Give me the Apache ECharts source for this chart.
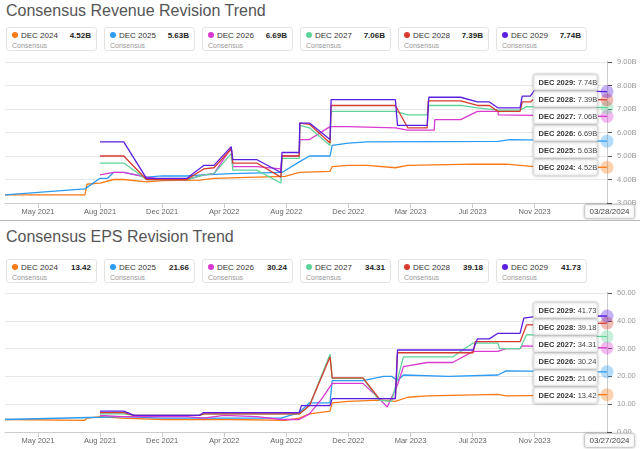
<!DOCTYPE html>
<html><head><meta charset="utf-8">
<script src="https://cdn.jsdelivr.net/npm/echarts@6/dist/echarts.min.js"></script>
<style>
body{margin:0;width:640px;height:449px;background:#fff;font-family:Arial,"Liberation Sans",sans-serif;overflow:hidden;position:relative}
.title{position:absolute;left:6px;font-size:16px;color:#555}
.box{position:absolute;width:91px;height:24px;border:1px solid #e3e3e3;border-radius:3px;box-sizing:border-box;padding:3px 5px;font-size:8px}
.box .n{color:#333}.box .v{position:absolute;right:5px;top:3px;font-weight:bold;color:#222}
.box .c{color:#999;font-size:7px;margin-top:2px}
.dot{display:inline-block;width:6px;height:6px;border-radius:3px;margin-right:3px}
.sep{position:absolute;left:0;top:220px;width:640px;height:1px;background:#bbb}
</style></head><body>
<div class="title" style="top:2px">Consensus Revenue Revision Trend</div>
<div id="revBoxes"></div>
<div id="rev" style="position:absolute;left:0;top:0;width:640px;height:220px"></div>
<div class="sep"></div>
<div class="title" style="top:228px">Consensus EPS Revision Trend</div>
<div id="epsBoxes"></div>
<div id="eps" style="position:absolute;left:0;top:220px;width:640px;height:229px"></div>
<script>
'use strict';
var names = ['DEC 2024','DEC 2025','DEC 2026','DEC 2027','DEC 2028','DEC 2029'];
var colors = ['#fb7a16','#2b9bf4','#d93ad0','#5fd49a','#d63b2f','#5a1fe0'];
var tickDates = ['2021-05-01','2021-08-24','2021-12-17','2022-04-11','2022-08-04','2022-11-27','2023-03-22','2023-07-15','2023-11-07'];
var tickLabels = ['May 2021','Aug 2021','Dec 2021','Apr 2022','Aug 2022','Dec 2022','Mar 2023','Jul 2023','Nov 2023'];
var revLast = [4.52,5.63,6.69,7.06,7.39,7.74];
var epsLast = [13.42,21.66,30.24,34.31,39.18,41.73];

var rev2024 = [['2021-03-01',3.35],['2021-07-27',3.35],['2021-07-31',3.8],['2021-08-24',3.85],['2021-09-18',4.0],['2021-10-07',4.0],['2021-11-18',3.9],['2021-12-18',3.95],['2022-02-24',3.97],['2022-03-23',4.05],['2022-06-10',4.1],['2022-08-02',4.13],['2022-08-28',4.3],['2022-10-24',4.35],['2022-10-28',4.55],['2022-11-27',4.6],['2023-01-01',4.6],['2023-02-22',4.5],['2023-03-17',4.6],['2023-07-16',4.65],['2023-09-15',4.65],['2023-11-07',4.55],['2024-03-20',4.52]];
var rev2025 = [['2021-03-01',3.35],['2021-07-27',3.6],['2021-08-24',4.05],['2021-09-07',4.05],['2021-09-18',4.3],['2021-10-07',4.3],['2021-11-18',4.1],['2021-12-18',4.15],['2022-02-01',4.15],['2022-03-04',4.2],['2022-04-24',4.25],['2022-04-27',4.3],['2022-07-27',4.3],['2022-08-28',4.75],['2022-09-16',5.0],['2022-10-24',5.0],['2022-10-28',5.45],['2022-11-27',5.55],['2023-01-01',5.6],['2023-08-31',5.62],['2023-09-22',5.7],['2024-03-20',5.63]];
var rev2026 = [['2021-08-24',4.2],['2021-09-18',4.3],['2021-10-07',4.3],['2021-11-18',4.1],['2021-12-18',4.0],['2022-02-01',4.0],['2022-03-04',4.2],['2022-03-23',4.25],['2022-04-24',5.35],['2022-04-27',4.55],['2022-06-10',4.55],['2022-07-25',4.45],['2022-07-27',5.0],['2022-08-28',5.0],['2022-08-29',5.7],['2022-09-16',5.7],['2022-10-24',6.25],['2022-11-27',6.25],['2023-02-22',6.2],['2023-03-17',6.1],['2023-05-05',6.1],['2023-05-06',6.55],['2023-06-23',6.55],['2023-07-24',6.9],['2023-08-31',6.9],['2023-09-01',6.75],['2024-03-20',6.69]];
var rev2027 = [['2021-08-24',4.7],['2021-10-07',4.7],['2021-11-18',4.0],['2022-02-01',4.0],['2022-03-04',4.2],['2022-03-23',4.25],['2022-04-24',5.1],['2022-04-27',4.4],['2022-06-10',4.4],['2022-07-25',3.85],['2022-07-27',4.9],['2022-08-28',4.9],['2022-08-29',6.3],['2022-09-16',6.2],['2022-10-24',5.45],['2022-10-26',6.9],['2023-02-22',6.9],['2023-03-17',6.75],['2023-04-22',6.75],['2023-04-24',7.15],['2023-06-23',7.15],['2023-07-24',7.05],['2023-08-31',6.95],['2023-10-11',6.95],['2023-10-23',7.1],['2024-03-20',7.06]];
var rev2028 = [['2021-08-24',5.0],['2021-10-07',5.0],['2021-11-18',4.0],['2022-02-01',4.0],['2022-03-04',4.45],['2022-03-23',4.5],['2022-04-24',5.3],['2022-04-27',4.7],['2022-06-10',4.7],['2022-07-25',4.1],['2022-07-27',5.0],['2022-08-28',5.0],['2022-08-29',6.4],['2022-09-16',6.35],['2022-10-24',5.55],['2022-10-26',7.15],['2023-02-22',7.15],['2023-03-17',6.2],['2023-04-22',6.2],['2023-04-24',7.35],['2023-06-23',7.35],['2023-07-24',7.15],['2023-08-15',7.15],['2023-08-31',6.9],['2023-10-11',6.9],['2023-10-15',7.3],['2023-10-30',7.3],['2023-11-07',7.45],['2024-03-20',7.39]];
var rev2029 = [['2021-08-24',5.6],['2021-10-07',5.6],['2021-11-18',4.05],['2022-02-01',4.05],['2022-03-04',4.6],['2022-03-23',4.6],['2022-04-24',5.4],['2022-04-27',4.85],['2022-06-10',4.85],['2022-07-25',4.3],['2022-07-27',5.15],['2022-08-28',5.15],['2022-08-29',6.4],['2022-09-16',6.4],['2022-10-24',5.7],['2022-10-26',7.4],['2023-02-22',7.4],['2023-02-26',6.3],['2023-04-22',6.3],['2023-04-25',7.5],['2023-06-23',7.5],['2023-07-24',7.3],['2023-08-15',7.3],['2023-08-31',7.05],['2023-10-11',7.05],['2023-10-15',7.55],['2023-10-30',7.55],['2023-11-07',7.8],['2024-03-20',7.74]];

var eps2024 = [['2021-03-01',4.5],['2021-07-27',4.2],['2021-07-31',5.0],['2021-08-24',5.5],['2021-10-03',5.0],['2021-12-18',4.5],['2022-04-24',4.5],['2022-04-27',4.2],['2022-08-02',4.2],['2022-08-28',5.0],['2022-09-16',6.5],['2022-10-24',7.5],['2022-10-28',10.5],['2022-11-27',11.0],['2023-01-23',11.5],['2023-02-22',11.0],['2023-03-17',12.5],['2023-04-22',13.0],['2023-08-31',13.5],['2023-09-15',13.0],['2024-03-20',13.42]];
var eps2025 = [['2021-03-01',4.5],['2021-08-24',5.3],['2021-10-03',5.5],['2021-12-18',5.0],['2022-07-25',5.0],['2022-08-28',7.0],['2022-09-16',10.5],['2022-10-24',10.5],['2022-10-28',18.5],['2022-12-24',18.5],['2023-01-31',20.0],['2023-02-15',20.0],['2023-02-26',18.5],['2023-03-09',20.5],['2023-06-01',20.0],['2023-08-31',20.5],['2023-09-15',22.0],['2024-03-20',21.66]];
var eps2026 = [['2021-08-24',6.0],['2021-10-03',5.5],['2022-02-01',5.5],['2022-03-04',5.0],['2022-04-10',6.0],['2022-06-10',5.5],['2022-07-25',4.5],['2022-08-28',4.5],['2022-09-16',6.5],['2022-10-09',12.0],['2022-10-28',17.5],['2022-12-24',17.5],['2023-01-23',12.0],['2023-02-07',9.0],['2023-02-26',17.0],['2023-03-09',23.5],['2023-04-22',25.0],['2023-06-08',25.0],['2023-07-16',29.0],['2023-08-31',29.0],['2023-09-15',30.0],['2023-10-11',30.0],['2023-10-15',31.0],['2024-03-20',30.24]];
var eps2027 = [['2021-08-24',6.5],['2021-10-07',6.5],['2021-10-26',6.0],['2022-02-24',6.0],['2022-03-04',6.5],['2022-08-28',6.5],['2022-09-16',9.5],['2022-10-24',28.0],['2022-10-28',19.3],['2022-12-24',19.3],['2023-01-23',11.5],['2023-02-15',11.0],['2023-03-09',27.0],['2023-06-08',27.0],['2023-07-16',32.0],['2023-08-31',32.0],['2023-09-03',30.0],['2023-10-11',30.0],['2023-10-23',35.0],['2024-03-20',34.31]];
var eps2028 = [['2021-08-24',7.0],['2021-10-07',7.0],['2021-10-26',6.0],['2022-02-24',6.0],['2022-03-04',6.5],['2022-08-28',6.5],['2022-09-16',9.5],['2022-10-24',27.0],['2022-10-28',19.5],['2022-12-24',19.5],['2023-01-23',12.0],['2023-02-22',12.0],['2023-02-26',28.5],['2023-07-16',28.5],['2023-07-20',32.5],['2023-10-11',32.5],['2023-10-23',38.5],['2024-03-20',39.18]];
var eps2029 = [['2021-08-24',7.5],['2021-10-07',7.5],['2021-10-26',6.0],['2022-02-24',6.0],['2022-03-04',7.0],['2022-08-28',7.0],['2022-09-01',9.5],['2022-10-24',9.5],['2022-10-28',12.0],['2023-02-22',12.0],['2023-02-26',29.5],['2023-07-16',29.5],['2023-07-24',33.5],['2023-08-15',33.5],['2023-08-31',35.5],['2023-10-11',35.5],['2023-10-18',41.0],['2023-11-07',41.5],['2024-03-20',41.73]];

function ts(d) { return +new Date(d); }

function boxes(id, top, vals, fmt) {
    var html = '';
    for (var i = 0; i < names.length; i++) {
        html += '<div class="box" style="left:' + (6 + i * 98) + 'px;top:' + top + 'px">' +
            '<span class="dot" style="background:' + colors[i] + '"></span><span class="n">' + names[i] + '</span>' +
            '<span class="v">' + fmt(vals[i]) + '</span><div class="c">Consensus</div></div>';
    }
    document.getElementById(id).innerHTML = html;
}
boxes('revBoxes', 27, revLast, function(v) { return v.toFixed(2) + 'B'; });
boxes('epsBoxes', 259, epsLast, function(v) { return v.toFixed(2); });

function build(el, data, last, min, max, step, unit, gridTop, tipTop, dateText) {
    var chart = echarts.init(document.getElementById(el));
    var endDate = ts('2024-03-20');
    var series = data.map(function(d, i) {
        return {
            type: 'line', name: names[i], showSymbol: false, silent: true,
            data: d.map(function(p) { return [ts(p[0]), p[1]]; }),
            lineStyle: { width: 1.3, color: colors[i] }, itemStyle: { color: colors[i] },
            markPoint: { symbol: 'circle', symbolSize: 13, label: { show: false },
                itemStyle: { color: colors[i], opacity: 0.35 },
                data: [{ coord: [endDate, last[i]] }] },
            markLine: i ? undefined : { symbol: 'none', silent: true, label: { show: false },
                lineStyle: { color: '#ccc', type: 'solid', width: 1 }, data: [{ xAxis: endDate }] }
        };
    });
    var tips = [];
    for (var i = 5; i >= 0; i--) {
        tips.push({ type: 'group', left: 533, top: tipTop + (5 - i) * 17, z: 100, children: [
            { type: 'rect', z: 100, shape: { width: 64, height: 16, r: 2 }, style: { fill: '#fff', stroke: '#ddd', shadowBlur: 3, shadowColor: 'rgba(0,0,0,0.25)' } },
            { type: 'text', z: 101, x: 5, y: 4, style: { text: '{b|' + names[i] + ':} ' + last[i].toFixed(2) + unit,
                rich: { b: { fontWeight: 'bold', fontSize: 7.5, fill: '#333' } }, fontSize: 7.5, fill: '#444' } }
        ] });
    }
    tips.push({ type: 'group', right: 5, bottom: 1, z: 100, children: [
        { type: 'rect', z: 100, shape: { width: 50, height: 14, r: 2 }, style: { fill: '#fff', stroke: '#ccc', shadowBlur: 3, shadowColor: 'rgba(0,0,0,0.2)' } },
        { type: 'text', z: 101, x: 5, y: 3, style: { text: dateText, fontSize: 8, fill: '#444' } }
    ] });
    var tickTs = tickDates.map(ts);
    chart.setOption({
        animation: false,
        grid: { left: 5, right: 33, top: gridTop, bottom: 17 },
        xAxis: { type: 'value', min: ts('2021-03-01'), max: endDate,
            axisLine: { lineStyle: { color: '#ccc' } },
            axisTick: { customValues: tickTs, lineStyle: { color: '#ccc' } },
            splitLine: { show: false },
            axisLabel: { customValues: tickTs, fontSize: 7.5, color: '#666', margin: 5,
                formatter: function(v) { var k = tickTs.indexOf(v); return k < 0 ? '' : tickLabels[k]; } } },
        yAxis: { type: 'value', position: 'right', min: min, max: max, interval: step,
            axisLabel: { fontSize: 7.5, color: '#999', margin: 10,
                formatter: function(v) { return v.toFixed(2) + unit; } },
            splitLine: { lineStyle: { color: '#e8e8e8' } } },
        series: series,
        graphic: tips
    });
}
build('rev', [rev2024, rev2025, rev2026, rev2027, rev2028, rev2029], revLast, 3, 9, 1, 'B', 62, 74, '03/28/2024');
build('eps', [eps2024, eps2025, eps2026, eps2027, eps2028, eps2029], epsLast, 0, 50, 10, '', 73, 82, '03/27/2024');
</script>
</body></html>
